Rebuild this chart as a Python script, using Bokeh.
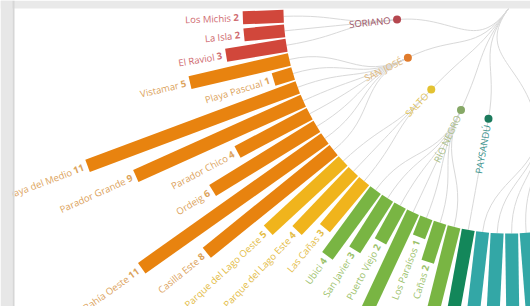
import math
from bokeh.plotting import figure
from bokeh.models import Range1d, ColumnDataSource, BoxAnnotation
from bokeh.embed import file_html
from bokeh.resources import INLINE
from bokeh.core.properties import value

# ---------------- data ----------------
departments = ["SORIANO", "SAN JOSÉ", "SALTO", "RÍO NEGRO", "PAYSANDÚ", "MALDONADO"]

soriano_places = ["Los Michis", "La Isla", "El Raviol"]
soriano_counts = [2, 2, 3]

sanjose_places = ["Vistamar", "Playa Pascual", "Playa del Medio", "Parador Grande",
                  "Parador Chico", "Ordeig", "Bahía Oeste", "Casilla Este"]
sanjose_counts = [5, 1, 11, 9, 4, 6, 11, 8]

salto_places = ["Parque del Lago Oeste", "Parque del Lago Este", "Las Cañas"]
salto_counts = [5, 4, 3]

rionegro_places = ["Ubici", "San Javier", "Puerto Viejo", "Nuevo Berlín",
                   "Los Paraísos", "Cañas", "Fray Bentos"]
rionegro_counts = [4, 3, 2, 7, 1, 2, 6]

paysandu_places = ["Casa Blanca"]
paysandu_counts = [6]

maldonado_places = ["Punta del Este", "La Barra", "Manantiales", "José Ignacio",
                    "Piriápolis", "Punta Colorada", "Punta Negra", "Portezuelo",
                    "Punta Ballena", "Solanas", "Las Flores", "Bella Vista"]
maldonado_counts = [6, 6, 7, 6, 5, 4, 4, 3, 5, 4, 3, 3]

groups_places = [soriano_places, sanjose_places, salto_places,
                 rionegro_places, paysandu_places, maldonado_places]
groups_counts = [soriano_counts, sanjose_counts, salto_counts,
                 rionegro_counts, paysandu_counts, maldonado_counts]

# ---------------- styles ----------------
bar_colors = ["#d1473b", "#e8830f", "#f0b41c", "#79b543", "#13875a", "#33a7a6"]
dot_colors = ["#b5474f", "#e07b2c", "#e3c232", "#86a866", "#1b7a5c", "#2a9a98"]
dept_text_colors = ["#9f5566", "#e0b97e", "#dfc152", "#abc08a", "#3a948e", "#5ab8b6"]
label_colors = ["#cf6b70", "#dca35c", "#e4bd48", "#9cc26c", "#3f9a7a", "#5ab8b6"]

START_DEG = 182.0
STEP_DEG = 3.7
R0 = 225.0
UNIT = 20.4
BAR_W = 13.0
R_DEPT = 112.0
FONT = value("Open Sans")

W, H = 530, 306
p = figure(width=W, height=H, output_backend="svg", toolbar_location=None,
           x_range=Range1d(-508, 22), y_range=Range1d(-298, 8),
           x_axis_type=None, y_axis_type=None, min_border=0)
p.grid.visible = False
p.outline_line_color = None
p.background_fill_color = "white"
p.border_fill_color = "white"

bars = dict(x=[], y=[], w=[], ang=[], color=[])
nums = dict(x=[], y=[], ang=[], text=[], color=[])
names = dict(x=[], y=[], ang=[], text=[], color=[])
links = dict(x0=[], y0=[], x1=[], y1=[], cx0=[], cy0=[], cx1=[], cy1=[])
depts = dict(x=[], y=[], color=[])
dlab = dict(x=[], y=[], ang=[], text=[], color=[])

idx = 0
dept_angles = []
for g, (plc, cnt) in enumerate(zip(groups_places, groups_counts)):
    angs = []
    for name, c in zip(plc, cnt):
        a = math.radians(START_DEG + STEP_DEG * idx)
        angs.append(a)
        idx += 1
        L = c * UNIT
        rc = R0 + L / 2
        bars["x"].append(rc * math.cos(a)); bars["y"].append(rc * math.sin(a))
        bars["w"].append(L); bars["ang"].append(a); bars["color"].append(bar_colors[g])
        r1 = R0 + L + 4
        nums["x"].append(r1 * math.cos(a)); nums["y"].append(r1 * math.sin(a))
        nums["ang"].append(a - math.pi); nums["text"].append(str(c))
        nums["color"].append(label_colors[g])
        r2 = r1 + 5.3 * len(str(c)) + 2.5
        names["x"].append(r2 * math.cos(a)); names["y"].append(r2 * math.sin(a))
        names["ang"].append(a - math.pi); names["text"].append(name)
        names["color"].append(label_colors[g])
    ad = sum(angs) / len(angs)
    dept_angles.append(ad)
    rm = (R_DEPT + R0) / 2
    for a in angs:
        links["x0"].append(R_DEPT * math.cos(ad)); links["y0"].append(R_DEPT * math.sin(ad))
        links["cx0"].append(rm * math.cos(ad)); links["cy0"].append(rm * math.sin(ad))
        links["cx1"].append(rm * math.cos(a)); links["cy1"].append(rm * math.sin(a))
        links["x1"].append(R0 * math.cos(a)); links["y1"].append(R0 * math.sin(a))
    depts["x"].append(R_DEPT * math.cos(ad)); depts["y"].append(R_DEPT * math.sin(ad))
    depts["color"].append(dot_colors[g])
    rl = R_DEPT + 6.5
    dlab["x"].append(rl * math.cos(ad)); dlab["y"].append(rl * math.sin(ad))
    dlab["ang"].append(ad - math.pi); dlab["text"].append(departments[g])
    dlab["color"].append(dept_text_colors[g])

root_a = sum(dept_angles) / len(dept_angles)
rmr = R_DEPT / 2
for ad in dept_angles:
    links["x0"].append(0.0); links["y0"].append(0.0)
    links["cx0"].append(rmr * math.cos(root_a)); links["cy0"].append(rmr * math.sin(root_a))
    links["cx1"].append(rmr * math.cos(ad)); links["cy1"].append(rmr * math.sin(ad))
    links["x1"].append(R_DEPT * math.cos(ad)); links["y1"].append(R_DEPT * math.sin(ad))

p.bezier(x0="x0", y0="y0", x1="x1", y1="y1", cx0="cx0", cy0="cy0", cx1="cx1", cy1="cy1",
         source=ColumnDataSource(links), line_color="#d9d9d9", line_width=1)

p.rect(x="x", y="y", width="w", height=BAR_W, angle="ang", fill_color="color",
       line_color=None, source=ColumnDataSource(bars))

p.text(x="x", y="y", text="text", angle="ang", text_color="color",
       text_font=FONT, text_font_size=value("9.5px"), text_font_style="bold",
       text_align="right", text_baseline="middle", source=ColumnDataSource(nums))
p.text(x="x", y="y", text="text", angle="ang", text_color="color",
       text_font=FONT, text_font_size=value("9.5px"),
       text_align="right", text_baseline="middle", source=ColumnDataSource(names))

p.scatter(x="x", y="y", size=8, fill_color="color", line_color=None,
          source=ColumnDataSource(depts))
p.text(x="x", y="y", text="text", angle="ang", text_color="color",
       text_font=FONT, text_font_size=value("9.5px"),
       text_align="right", text_baseline="middle", source=ColumnDataSource(dlab))

# card frame shadow (top band and left band)
p.add_layout(BoxAnnotation(bottom=0, top=8, fill_color="#e9e9e9",
                           fill_alpha=1.0, line_alpha=0))
p.add_layout(BoxAnnotation(left=-508, right=-496, fill_color="#e7e7e7",
                           fill_alpha=1.0, line_alpha=0))
p.add_layout(BoxAnnotation(left=-496, right=-494, fill_color="#d6d6d6",
                           fill_alpha=1.0, line_alpha=0))

open("out.html", "w").write(file_html(p, INLINE))
